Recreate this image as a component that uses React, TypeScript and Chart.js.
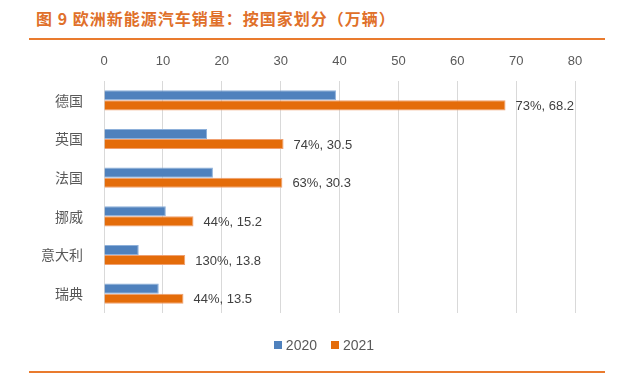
import React, { useEffect, useRef } from "react";
import { Chart, registerables } from "chart.js";

Chart.register(...registerables);

const categories = ["德国", "英国", "法国", "挪威", "意大利", "瑞典"];
const sales2020 = [39.4, 17.5, 18.5, 10.5, 5.9, 9.3];
const sales2021 = [68.2, 30.5, 30.3, 15.2, 13.8, 13.5];
const growth = ["73%", "74%", "63%", "44%", "130%", "44%"];
const seriesNames = ["2020", "2021"];
const xTicks = [0, 10, 20, 30, 40, 50, 60, 70, 80];

const BLUE = "#4F81BD";
const ORANGE = "#E46C0A";
const LINE = "#E97B2E";

const labelPlugin = {
  id: "barLabels",
  afterDatasetsDraw(chart: any) {
    const ctx = chart.ctx;
    const meta = chart.getDatasetMeta(1);
    ctx.save();
    ctx.font = "13px 'Liberation Sans', sans-serif";
    ctx.fillStyle = "#404040";
    ctx.textAlign = "left";
    ctx.textBaseline = "middle";
    meta.data.forEach((bar: any, i: number) => {
      ctx.fillText(`${growth[i]}, ${sales2021[i]}`, bar.x + 10, bar.y + 1);
    });
    ctx.restore();
  },
};

export default function App() {
  const ref = useRef<HTMLCanvasElement>(null);
  useEffect(() => {
    if (!ref.current) return;
    const chart = new Chart(ref.current, {
      type: "bar",
      data: {
        labels: categories,
        datasets: [
          { label: seriesNames[0], data: sales2020, backgroundColor: BLUE, borderColor: "#8DB0DA", borderWidth: 1, barPercentage: 1, categoryPercentage: 0.52 },
          { label: seriesNames[1], data: sales2021, backgroundColor: ORANGE, borderColor: "#F0A070", borderWidth: 1, barPercentage: 1, categoryPercentage: 0.52 },
        ],
      },
      options: {
        indexAxis: "y",
        animation: false,
        responsive: false,
        maintainAspectRatio: false,
        layout: { padding: { left: 0, right: 43, top: 0, bottom: 76 } },
        plugins: { legend: { display: false }, tooltip: { enabled: false } },
        scales: {
          x: {
            position: "top",
            min: 0,
            max: 80,
            afterBuildTicks: (s: any) => { s.ticks = xTicks.map((v) => ({ value: v })); },
            afterFit: (s: any) => { s.height = 81; },
            grid: { color: "#D9D9D9", drawTicks: false },
            border: { display: false },
            ticks: { color: "#595959", font: { size: 13, family: "'Liberation Sans', sans-serif" }, padding: 12 },
          },
          y: {
            afterFit: (s: any) => { s.width = 104; },
            grid: { display: false },
            border: { display: false },
            ticks: { color: "#595959", font: { size: 14, family: "'Noto Sans CJK SC', sans-serif" }, padding: 13 },
          },
        },
      },
      plugins: [labelPlugin],
    });
    return () => chart.destroy();
  }, []);

  return (
    <div style={{ position: "fixed", left: 0, top: 0, width: 618, height: 389, background: "#fff", overflow: "hidden" }}>
      <div style={{ position: "absolute", left: 36, top: 6, fontFamily: "'Noto Sans CJK SC', sans-serif", fontWeight: 700, fontSize: 16, letterSpacing: 1, color: "#E0702A", whiteSpace: "nowrap" }}>
        图 9 欧洲新能源汽车销量：按国家划分（万辆）
      </div>
      <div style={{ position: "absolute", left: 29, top: 38, width: 576, height: 2, background: LINE }} />
      <canvas ref={ref} width={618} height={389} style={{ position: "absolute", left: 0, top: 0 }} />
      <div style={{ position: "absolute", left: 0, top: 337, width: 618, display: "flex", justifyContent: "center", fontFamily: "'Liberation Sans', sans-serif", fontSize: 14, color: "#595959" }}>
        <div style={{ display: "flex", alignItems: "center", marginLeft: 30 }}>
          <span style={{ display: "inline-block", width: 8, height: 8, background: BLUE, marginRight: 4 }} />{seriesNames[0]}
          <span style={{ display: "inline-block", width: 8, height: 8, background: ORANGE, marginLeft: 14, marginRight: 4 }} />{seriesNames[1]}
        </div>
      </div>
      <div style={{ position: "absolute", left: 29, top: 371, width: 576, height: 2, background: LINE }} />
    </div>
  );
}
